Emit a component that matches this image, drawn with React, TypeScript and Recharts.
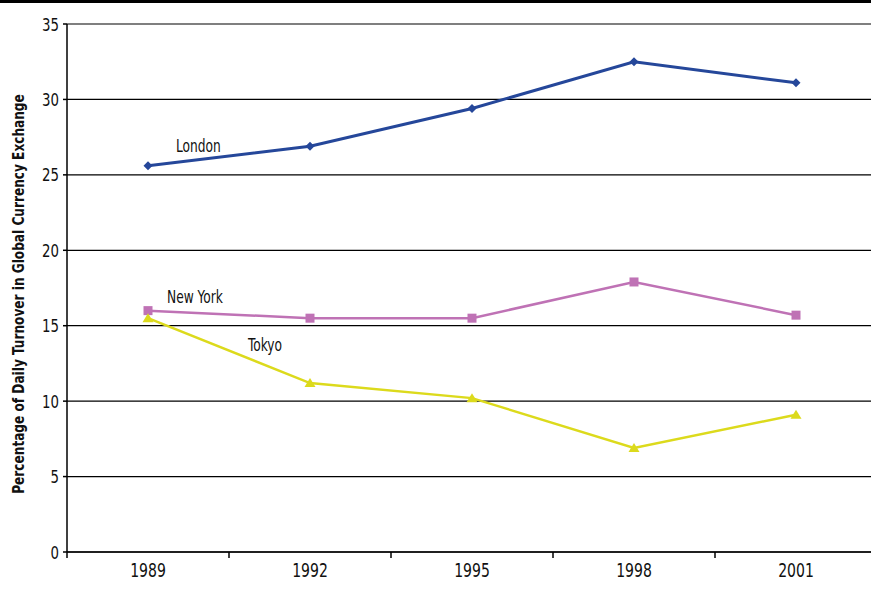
import { CartesianGrid, Line, LineChart, XAxis, YAxis } from "recharts"

// Turnover share per city (percent of daily global FX turnover)
const years = ["1989", "1992", "1995", "1998", "2001"]
const london = [25.6, 26.9, 29.4, 32.5, 31.1]
const newYork = [16.0, 15.5, 15.5, 17.9, 15.7]
const tokyo = [15.5, 11.2, 10.2, 6.9, 9.1]
const yTicks = [0, 5, 10, 15, 20, 25, 30, 35]

const data = years.map((year, i) => ({
  year,
  london: london[i],
  newYork: newYork[i],
  tokyo: tokyo[i],
}))

const FONT = "'DejaVu Sans Condensed', 'Liberation Sans Narrow', 'DejaVu Sans', sans-serif"
const W = 880
const H = 593
const LEFT = 67
const RIGHT = 3
const BAND = (W - LEFT - RIGHT) / years.length

// narrow, tall text to imitate the condensed face of the original
const NarrowText = ({ x, y, size, sx = 0.8, anchor = "start", bold = false, children }: any) => (
  <text
    transform={`translate(${x},${y}) scale(${sx},1)`}
    textAnchor={anchor}
    style={{ fontFamily: FONT, fontStretch: "condensed" }}
    fontSize={size}
    fontWeight={bold ? "bold" : "normal"}
    fill="#111"
  >
    {children}
  </text>
)

const Diamond = (props: any) => {
  const { cx, cy, index } = props
  return <path key={index} d={`M${cx},${cy - 4.5}L${cx + 4.5},${cy}L${cx},${cy + 4.5}L${cx - 4.5},${cy}Z`} fill="#25479a" />
}
const Square = (props: any) => {
  const { cx, cy, index } = props
  return <rect key={index} x={cx - 4.5} y={cy - 4.5} width={9} height={9} fill="#bf72b5" />
}
const Triangle = (props: any) => {
  const { cx, cy, index } = props
  return <path key={index} d={`M${cx},${cy - 5}L${cx + 5.5},${cy + 4}L${cx - 5.5},${cy + 4}Z`} fill="#dcda1c" />
}

const seriesLabel = (text: string, dx: number, dy: number) => (props: any) => {
  const { x, y, index } = props
  if (index !== 0) return null
  return (
    <NarrowText x={x + dx} y={y + dy} size={17} sx={0.8}>
      {text}
    </NarrowText>
  )
}

const XTick = (props: any) => {
  const { x, y, payload } = props
  return (
    <g>
      <line x1={x - BAND / 2} x2={x - BAND / 2} y1={y - 8} y2={y - 2} stroke="#000" strokeWidth={1.5} />
      <NarrowText x={x} y={y + 17} size={19.5} sx={0.8} anchor="middle">
        {payload.value}
      </NarrowText>
    </g>
  )
}

const YTick = (props: any) => {
  const { x, y, payload } = props
  return (
    <NarrowText x={x - 2} y={y + 6.5} size={18.5} sx={0.8} anchor="end">
      {payload.value}
    </NarrowText>
  )
}

export default function App() {
  return (
    <div style={{ position: "fixed", left: 0, top: 0, width: 871, height: 593, overflow: "hidden", background: "#fff" }}>
      <div style={{ position: "absolute", left: 0, top: 0, width: 871, height: 3, background: "#000", zIndex: 2 }} />
      <LineChart width={W} height={H} data={data} margin={{ top: 24, right: RIGHT, bottom: 0, left: 0 }}>
        <CartesianGrid horizontal vertical={false} stroke="#000" strokeWidth={1.2} />
        <XAxis
          dataKey="year"
          height={41}
          padding={{ left: BAND / 2, right: BAND / 2 }}
          axisLine={{ stroke: "#000", strokeWidth: 1.5 }}
          tickLine={false}
          tick={<XTick />}
          interval={0}
        />
        <YAxis
          width={LEFT}
          domain={[0, 35]}
          ticks={yTicks}
          interval={0}
          axisLine={{ stroke: "#000", strokeWidth: 1.5 }}
          tickLine={{ stroke: "#000", strokeWidth: 1.5 }}
          tickSize={4}
          tick={<YTick />}
          label={{
            content: () => (
              <text
                transform="translate(24,294) rotate(-90) scale(0.9,1)"
                textAnchor="middle"
                style={{ fontFamily: FONT, fontStretch: "condensed" }}
                fontSize={15}
                fontWeight="bold"
                fill="#111"
              >
                Percentage of Daily Turnover in Global Currency Exchange
              </text>
            ),
          }}
        />
        <Line
          dataKey="london"
          stroke="#25479a"
          strokeWidth={3}
          dot={Diamond}
          activeDot={false}
          isAnimationActive={false}
          label={seriesLabel("London", 28, -14)}
        />
        <Line
          dataKey="newYork"
          stroke="#bf72b5"
          strokeWidth={2.5}
          dot={Square}
          activeDot={false}
          isAnimationActive={false}
          label={seriesLabel("New York", 19, -8)}
        />
        <Line
          dataKey="tokyo"
          stroke="#dcda1c"
          strokeWidth={2.5}
          dot={Triangle}
          activeDot={false}
          isAnimationActive={false}
          label={seriesLabel("Tokyo", 100, 33)}
        />
      </LineChart>
    </div>
  )
}
